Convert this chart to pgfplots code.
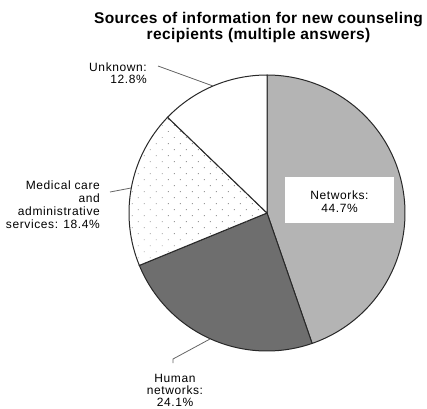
\documentclass[border=0pt]{standalone}
\usepackage{pgfplots}
\pgfplotsset{compat=1.18}
\usepackage{pgfplotstable}
\usepackage{fontspec}
\setmainfont{Liberation Sans}
\newfontfamily\titfont[LetterSpace=2.5]{Liberation Sans}
\newfontfamily\labfont[LetterSpace=5]{Liberation Sans}
\usetikzlibrary{patterns.meta}
\definecolor{netgray}{RGB}{180,180,180}
\definecolor{humgray}{RGB}{110,110,110}
\definecolor{edgec}{RGB}{40,40,40}
\definecolor{leadc}{RGB}{100,100,100}

\pgfplotstableread{
label share
Networks 44.7
Human 24.1
Medical 18.4
Unknown 12.8
}\piedata
\pgfplotstablegetelem{0}{share}\of\piedata \let\sA\pgfplotsretval
\pgfplotstablegetelem{1}{share}\of\piedata \let\sB\pgfplotsretval
\pgfplotstablegetelem{2}{share}\of\piedata \let\sC\pgfplotsretval
\pgfplotstablegetelem{3}{share}\of\piedata \let\sD\pgfplotsretval
\pgfmathsetmacro\aA{90-3.6*\sA}
\pgfmathsetmacro\aB{\aA-3.6*\sB}
\pgfmathsetmacro\aC{\aB-3.6*\sC}
\pgfmathsetmacro\aD{\aC-3.6*\sD}

\begin{document}
\begin{tikzpicture}
\begin{axis}[
  scale only axis, width=427pt, height=408pt,
  xmin=-267, xmax=160, ymin=-195, ymax=213,
  hide axis, clip=false,
]
\path (rel axis cs:0,0) rectangle (rel axis cs:1,1);
% slices
\addplot[draw=edgec, line width=1pt, fill=netgray, domain=\aA:90, samples=120, variable=\t]
  ({138*cos(\t)},{138*sin(\t)}) -- (axis cs:0,0) -- cycle;
\addplot[draw=edgec, line width=1pt, fill=humgray, domain=\aB:\aA, samples=80, variable=\t]
  ({138*cos(\t)},{138*sin(\t)}) -- (axis cs:0,0) -- cycle;
\addplot[draw=edgec, line width=1pt, fill=white, domain=\aC:\aB, samples=80, variable=\t]
  ({138*cos(\t)},{138*sin(\t)}) -- (axis cs:0,0) -- cycle;
\addplot[draw=none, pattern={Dots[distance=8.5pt, radius=0.65pt, angle=45]}, pattern color=gray!80, domain=\aC:\aB, samples=80, variable=\t]
  ({138*cos(\t)},{138*sin(\t)}) -- (axis cs:0,0) -- cycle;
\addplot[draw=edgec, line width=1pt, fill=white, domain=\aD:\aC, samples=60, variable=\t]
  ({138*cos(\t)},{138*sin(\t)}) -- (axis cs:0,0) -- cycle;
% leader lines
\draw[leadc, line width=0.8pt] (axis cs:-109,147) -- (axis cs:-54,127);
\draw[leadc, line width=0.8pt] (axis cs:-157,21) -- (axis cs:-136,25);
\draw[leadc, line width=0.8pt] (axis cs:-94,-150) -- (axis cs:-94,-146) -- (axis cs:-57,-126);
% title
\begin{scope}[every node/.style={overlay, inner sep=0pt, anchor=base, font=\titfont\bfseries\fontsize{15.5}{16}\selectfont}]
\node at (axis cs:-8.5,189) {Sources of information for new counseling};
\node at (axis cs:-8.5,173.5) {recipients (multiple answers)};
\end{scope}
% networks box
\fill[white] (axis cs:18,36) rectangle (axis cs:127,-10);
\begin{scope}[every node/.style={overlay, inner sep=0pt, font=\labfont\fontsize{12}{13}\selectfont}]
\node[anchor=base] at (axis cs:72.5,14) {Networks:};
\node[anchor=base] at (axis cs:72.5,1) {44.7\%};
% unknown
\node[anchor=base east] at (axis cs:-120,142) {Unknown:};
\node[anchor=base east] at (axis cs:-120,130) {12.8\%};
% medical
\node[anchor=base east] at (axis cs:-167,24) {Medical care};
\node[anchor=base east] at (axis cs:-167,11) {and};
\node[anchor=base east] at (axis cs:-167,-2) {administrative};
\node[anchor=base east] at (axis cs:-167,-15) {services: 18.4\%};
% human
\node[anchor=base] at (axis cs:-92,-169) {Human};
\node[anchor=base] at (axis cs:-92,-181) {networks:};
\node[anchor=base] at (axis cs:-92,-193.5) {24.1\%};
\end{scope}
\end{axis}
\end{tikzpicture}
\end{document}
